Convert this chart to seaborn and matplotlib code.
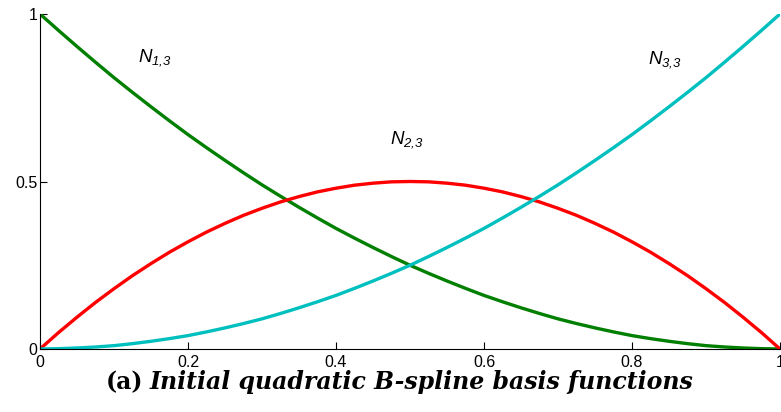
import matplotlib
matplotlib.use("Agg")
import matplotlib.pyplot as plt
import seaborn as sns
import pandas as pd

# parameter values along the horizontal axis
t_values = [0.000, 0.025, 0.050, 0.075, 0.100, 0.125, 0.150, 0.175, 0.200, 0.225,
            0.250, 0.275, 0.300, 0.325, 0.350, 0.375, 0.400, 0.425, 0.450, 0.475,
            0.500, 0.525, 0.550, 0.575, 0.600, 0.625, 0.650, 0.675, 0.700, 0.725,
            0.750, 0.775, 0.800, 0.825, 0.850, 0.875, 0.900, 0.925, 0.950, 0.975, 1.000]

n13_values = [1.000, 0.951, 0.903, 0.856, 0.810, 0.766, 0.723, 0.681, 0.640, 0.601,
              0.563, 0.526, 0.490, 0.456, 0.423, 0.391, 0.360, 0.331, 0.303, 0.276,
              0.250, 0.226, 0.203, 0.181, 0.160, 0.141, 0.123, 0.106, 0.090, 0.076,
              0.063, 0.051, 0.040, 0.031, 0.023, 0.016, 0.010, 0.006, 0.003, 0.001, 0.000]

n23_values = [0.000, 0.049, 0.095, 0.139, 0.180, 0.219, 0.255, 0.289, 0.320, 0.349,
              0.375, 0.399, 0.420, 0.439, 0.455, 0.469, 0.480, 0.489, 0.495, 0.499,
              0.500, 0.499, 0.495, 0.489, 0.480, 0.469, 0.455, 0.439, 0.420, 0.399,
              0.375, 0.349, 0.320, 0.289, 0.255, 0.219, 0.180, 0.139, 0.095, 0.049, 0.000]

n33_values = [0.000, 0.001, 0.003, 0.006, 0.010, 0.016, 0.023, 0.031, 0.040, 0.051,
              0.063, 0.076, 0.090, 0.106, 0.123, 0.141, 0.160, 0.181, 0.203, 0.226,
              0.250, 0.276, 0.303, 0.331, 0.360, 0.391, 0.423, 0.456, 0.490, 0.526,
              0.563, 0.601, 0.640, 0.681, 0.723, 0.766, 0.810, 0.856, 0.903, 0.951, 1.000]

series_names = ["N13", "N23", "N33"]
series_labels = [r"$N_{1{,}3}$", r"$N_{2{,}3}$", r"$N_{3{,}3}$"]
label_positions = [(0.132, 0.87), (0.473, 0.625), (0.822, 0.865)]
x_ticks = [0, 0.2, 0.4, 0.6, 0.8, 1]
x_tick_labels = ["0", "0.2", "0.4", "0.6", "0.8", "1"]
y_ticks = [0, 0.5, 1]
y_tick_labels = ["0", "0.5", "1"]
caption_tag = "(a)"
caption_text = "Initial quadratic B-spline basis functions"

colors = {"N13": "#007f00", "N23": "#ff0000", "N33": "#00bfbf"}

frames = []
for name, vals in zip(series_names, [n13_values, n23_values, n33_values]):
    frames.append(pd.DataFrame({"t": t_values, "value": vals, "series": name}))
df = pd.concat(frames, ignore_index=True)

sns.set_theme(style="white")
plt.rcParams["font.family"] = ["Liberation Sans", "DejaVu Sans"]
plt.rcParams["text.color"] = "black"
plt.rcParams["xtick.color"] = "black"
plt.rcParams["ytick.color"] = "black"
plt.rcParams["mathtext.fontset"] = "custom"
plt.rcParams["mathtext.it"] = "Liberation Sans:italic"
plt.rcParams["mathtext.rm"] = "Liberation Sans:italic"

fig = plt.figure(figsize=(7.81, 4.12), dpi=100)
ax = fig.add_axes([40 / 781, 63 / 412, 740 / 781, 335 / 412])

sns.lineplot(data=df, x="t", y="value", hue="series", palette=colors,
             linewidth=2.4, legend=False, ax=ax, sort=False)

ax.set_xlim(0, 1)
ax.set_ylim(0, 1)
ax.set_xticks(x_ticks)
ax.set_xticklabels(x_tick_labels)
ax.set_yticks(y_ticks)
ax.set_yticklabels(y_tick_labels)
ax.set_xlabel("")
ax.set_ylabel("")
ax.tick_params(axis="both", direction="in", length=5, width=0.8, color="black",
               labelcolor="black", labelsize=11.5, bottom=True, left=True,
               top=False, right=False)
ax.tick_params(axis="x", pad=4)
ax.tick_params(axis="y", pad=2)
ax.grid(False)
for side in ["top", "right"]:
    ax.spines[side].set_visible(False)
for side in ["left", "bottom"]:
    ax.spines[side].set_color("black")
    ax.spines[side].set_linewidth(0.8)
for lab in ax.get_xticklabels() + ax.get_yticklabels():
    lab.set_clip_on(False)

for lab, (x, y) in zip(series_labels, label_positions):
    ax.text(x, y, lab, fontsize=13.5, ha="left", va="center", color="black")

fig.text(0.183, 0.072, caption_tag, fontsize=17, fontweight="bold", color="black",
         family=["DejaVu Serif"], ha="right", va="center")
fig.text(0.191, 0.072, caption_text, fontsize=17, fontweight="bold", style="italic",
         color="black", family=["DejaVu Serif"], ha="left", va="center")

fig.savefig("out.png", dpi=100)
